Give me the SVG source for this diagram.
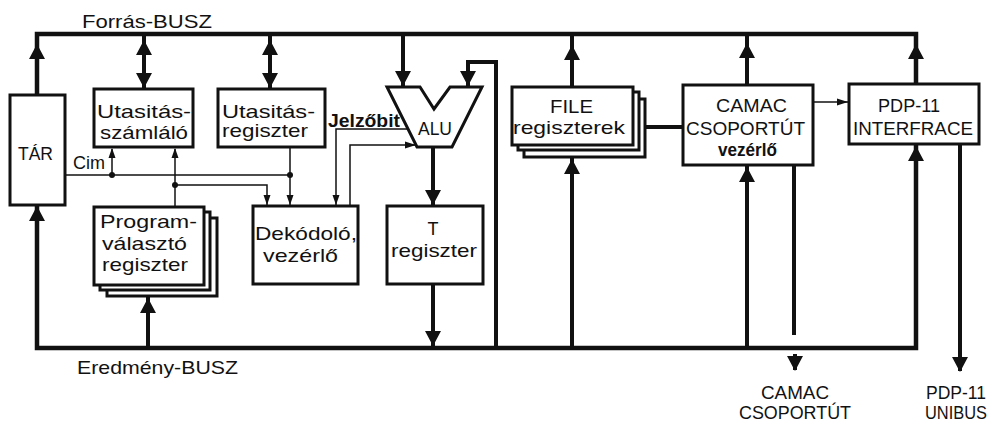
<svg xmlns="http://www.w3.org/2000/svg" xmlns:xlink="http://www.w3.org/1999/xlink" width="995" height="425" viewBox="0 0 995 425">
<style>
.box{fill:#fff;stroke:#111;stroke-width:3}
.bus{fill:none;stroke:#111;stroke-width:4.5;stroke-linejoin:miter}
.thick{fill:none;stroke:#111;stroke-width:4}
.thin{fill:none;stroke:#111;stroke-width:1.5}
.ah{fill:#111}
.dot{fill:#111}
text{font-family:"Liberation Sans",Arial,sans-serif;fill:#111;font-size:19px}
.lbl{font-size:19px}
.sm{font-size:18px}
.out{font-size:18px}
.b{font-weight:bold}
.mid{text-anchor:middle}
</style>
<defs>
<path id="ahD" d="M0,0 L-8,-15 L8,-15 Z"/>
<path id="ahU" d="M0,0 L-8,15 L8,15 Z"/>
<path id="tD" d="M0,0 L-3.5,-10 L3.5,-10 Z"/>
<path id="tU" d="M0,0 L-3.5,10 L3.5,10 Z"/>
<path id="tR" d="M0,0 L-11,-3.5 L-11,3.5 Z"/>
</defs>
<rect width="995" height="425" fill="#fff"/>

<g id="connectors">
  <path class="bus" d="M37,95 V34 H916 V84"/>
  <path class="bus" d="M37,205 V348 H916 V144"/>
  <path class="thick" d="M144,34 V89"/>
  <path class="thick" d="M270,34 V89"/>
  <path class="thick" d="M403,34 V87"/>
  <path class="thick" d="M496,348 V62 H468 V87"/>
  <path class="thick" d="M433,147 V206"/>
  <path class="thick" d="M433,284 V348"/>
  <path class="thick" d="M572,87 V34"/>
  <path class="thick" d="M572,348 V157"/>
  <path class="thick" d="M747,85 V34"/>
  <path class="thick" d="M747,348 V165"/>
  <path class="thick" d="M148,348 V296"/>
  <path class="thick" d="M645,127 H683"/>
  <path class="thick" d="M794,165 V335"/>
  <path class="thick" d="M795,354 V370"/>
  <path class="thick" d="M960,144 V371"/>
  <g class="ah">
    <use xlink:href="#ahU" x="37" y="44"/>
    <use xlink:href="#ahU" x="37" y="206"/>
    <use xlink:href="#ahU" x="144" y="40"/>
    <use xlink:href="#ahD" x="144" y="88"/>
    <use xlink:href="#ahU" x="270" y="40"/>
    <use xlink:href="#ahD" x="270" y="88"/>
    <use xlink:href="#ahD" x="403" y="86"/>
    <use xlink:href="#ahD" x="468" y="86"/>
    <use xlink:href="#ahD" x="433" y="205"/>
    <use xlink:href="#ahD" x="433" y="346"/>
    <use xlink:href="#ahU" x="572" y="45"/>
    <use xlink:href="#ahU" x="572" y="159"/>
    <use xlink:href="#ahU" x="747" y="43"/>
    <use xlink:href="#ahU" x="747" y="167"/>
    <use xlink:href="#ahU" x="916" y="44"/>
    <use xlink:href="#ahU" x="916" y="146"/>
    <use xlink:href="#ahU" x="148" y="298"/>
    <use xlink:href="#ahD" x="795" y="371"/>
    <use xlink:href="#ahD" x="960" y="372"/>
  </g>
  <path class="thin" d="M65,175 H290"/>
  <path class="thin" d="M290,147 V205"/>
  <path class="thin" d="M112,175 V149"/>
  <path class="thin" d="M175,207 V149"/>
  <path class="thin" d="M175,185 H267 V205"/>
  <path class="thin" d="M408,129 H336 V205"/>
  <path class="thin" d="M350,206 V145 H416"/>
  <path class="thin" d="M813,102 H848"/>
  <g class="ah">
    <use xlink:href="#tD" x="290" y="205"/>
    <use xlink:href="#tD" x="267" y="205"/>
    <use xlink:href="#tD" x="336" y="205"/>
    <use xlink:href="#tU" x="112" y="148"/>
    <use xlink:href="#tU" x="175" y="148"/>
    <use xlink:href="#tR" x="416" y="145"/>
    <use xlink:href="#tR" x="848" y="102"/>
  </g>
  <circle class="dot" cx="112" cy="175" r="3"/>
  <circle class="dot" cx="290" cy="175" r="3"/>
  <circle class="dot" cx="175" cy="185" r="3"/>
</g>

<g id="tar">
  <rect class="box" x="10" y="95" width="55" height="110"/>
  <text x="18" y="160" textLength="35" lengthAdjust="spacingAndGlyphs" class="lbl">TÁR</text>
</g>

<g id="utasitas-szamlalo">
  <rect class="box" x="94" y="89" width="99" height="58"/>
  <text x="97" y="118" textLength="94" lengthAdjust="spacingAndGlyphs">Utasitás-</text>
  <text x="100" y="139" textLength="88" lengthAdjust="spacingAndGlyphs">számláló</text>
</g>

<g id="utasitas-regiszter">
  <rect class="box" x="218" y="89" width="107" height="58"/>
  <text x="222" y="118" textLength="93" lengthAdjust="spacingAndGlyphs">Utasitás-</text>
  <text x="222" y="137" textLength="86" lengthAdjust="spacingAndGlyphs">regiszter</text>
</g>

<g id="programvalaszto">
  <rect class="box" x="107" y="218" width="110" height="78"/>
  <rect class="box" x="100" y="212" width="110" height="78"/>
  <rect class="box" x="94" y="207" width="110" height="78"/>
  <text x="100" y="228" textLength="97" lengthAdjust="spacingAndGlyphs">Program-</text>
  <text x="102" y="250" textLength="85" lengthAdjust="spacingAndGlyphs">választó</text>
  <text x="102" y="271" textLength="86" lengthAdjust="spacingAndGlyphs">regiszter</text>
</g>

<g id="cim-label">
  <text x="73" y="169" textLength="32" lengthAdjust="spacingAndGlyphs" class="sm">Cim</text>
</g>

<g id="dekodolo">
  <rect class="box" x="253" y="206" width="105" height="78"/>
  <text x="255" y="240" textLength="102" lengthAdjust="spacingAndGlyphs">Dekódoló,</text>
  <text x="263" y="262" textLength="75" lengthAdjust="spacingAndGlyphs">vezérlő</text>
</g>

<g id="jelzobit-label">
  <text x="328" y="127" textLength="72" lengthAdjust="spacingAndGlyphs" class="sm b">Jelzőbit</text>
</g>

<g id="alu">
  <path class="box" d="M387,87 L420,87 L434,109 L450,87 L482,87 L452,147 L417,147 Z" stroke-linejoin="miter"/>
  <text x="418" y="135" textLength="34" lengthAdjust="spacingAndGlyphs" class="lbl">ALU</text>
</g>

<g id="t-regiszter">
  <rect class="box" x="387" y="206" width="96" height="78"/>
  <text x="433" y="235" class="mid sm">T</text>
  <text x="391" y="257" textLength="86" lengthAdjust="spacingAndGlyphs">regiszter</text>
</g>

<g id="file-regiszterek">
  <rect class="box" x="524" y="99" width="121" height="58"/>
  <rect class="box" x="518" y="92" width="121" height="58"/>
  <rect class="box" x="512" y="87" width="121" height="58"/>
  <text x="550" y="113" textLength="43" lengthAdjust="spacingAndGlyphs">FILE</text>
  <text x="513" y="134" textLength="112" lengthAdjust="spacingAndGlyphs">regiszterek</text>
</g>

<g id="camac-csoportut-vezerlo">
  <rect class="box" x="683" y="85" width="130" height="80"/>
  <text x="716" y="112" textLength="71" lengthAdjust="spacingAndGlyphs">CAMAC</text>
  <text x="686" y="135" textLength="119" lengthAdjust="spacingAndGlyphs">CSOPORTÚT</text>
  <text x="718" y="156" textLength="59" lengthAdjust="spacingAndGlyphs" class="sm b">vezérlő</text>
</g>

<g id="pdp11-interface">
  <rect class="box" x="849" y="84" width="130" height="60"/>
  <text x="878" y="112" textLength="62" lengthAdjust="spacingAndGlyphs">PDP-11</text>
  <text x="853" y="135" textLength="120" lengthAdjust="spacingAndGlyphs">INTERFRACE</text>
</g>

<g id="bus-labels">
  <text x="82" y="28" textLength="130" lengthAdjust="spacingAndGlyphs" class="lbl">Forrás-BUSZ</text>
  <text x="77" y="374" textLength="161" lengthAdjust="spacingAndGlyphs" class="lbl">Eredmény-BUSZ</text>
</g>

<g id="camac-csoportut-out">
  <text x="795" y="399" textLength="68" lengthAdjust="spacingAndGlyphs" class="out mid">CAMAC</text>
  <text x="795" y="419" textLength="112" lengthAdjust="spacingAndGlyphs" class="out mid">CSOPORTÚT</text>
</g>

<g id="pdp11-unibus">
  <text x="956" y="399" textLength="60" lengthAdjust="spacingAndGlyphs" class="out mid">PDP-11</text>
  <text x="956" y="419" textLength="62" lengthAdjust="spacingAndGlyphs" class="out mid">UNIBUS</text>
</g>
</svg>
